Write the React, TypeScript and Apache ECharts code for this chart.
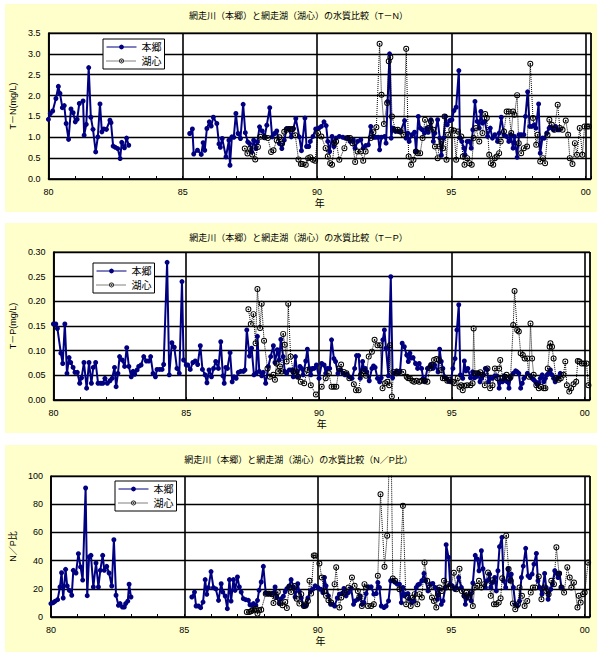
import React, { useEffect, useRef } from 'react';
import * as echarts from 'echarts';

const yearTickLabels = ['80', '85', '90', '95', '00'];
const titles = [
  '網走川（本郷）と網走湖（湖心）の水質比較（T－N）',
  '網走川（本郷）と網走湖（湖心）の水質比較（T－P）',
  '網走川（本郷）と網走湖（湖心）の水質比較（N／P比）',
];
const yNames = ['T－N(mg/L)', 'T－P(mg/L)', 'N／P比'];
const xName = '年';
const seriesNames = ['本郷', '湖心'];

const hongoTN = [
  [80.0, 1.43], [80.07, 1.57], [80.16, 1.63], [80.28, 1.93], [80.37, 2.22], [80.43, 2.05], [80.52, 1.71], [80.59, 1.76],
  [80.66, 1.33], [80.75, 0.95], [80.84, 1.68], [80.92, 1.59], [81.0, 1.37], [81.07, 1.43], [81.15, 1.81], [81.29, 1.87],
  [81.33, 1.05], [81.41, 1.31], [81.5, 2.67], [81.58, 1.48], [81.66, 1.19], [81.76, 0.65], [81.84, 1.01], [81.92, 1.8],
  [81.99, 1.13], [82.06, 1.2], [82.16, 1.19], [82.29, 1.41], [82.33, 1.35], [82.41, 0.79], [82.49, 0.76], [82.58, 0.73],
  [82.67, 0.49], [82.73, 0.88], [82.83, 0.75], [82.91, 0.98], [82.99, 0.81], [84.0, '-'],
  [85.26, 1.09], [85.36, 1.2], [85.41, 0.6], [85.55, 0.69], [85.69, 0.59], [85.76, 0.87], [85.82, 0.69], [85.9, 1.21],
  [85.99, 1.37], [86.06, 1.27], [86.14, 1.48], [86.27, 1.33], [86.35, 0.84], [86.4, 0.76], [86.47, 0.97], [86.61, 0.53],
  [86.72, 0.93], [86.76, 0.33], [86.83, 1.01], [86.9, 1.0], [86.98, 1.57], [87.06, 1.09], [87.15, 0.97], [87.25, 1.79],
  [87.33, 1.11], [87.42, 0.89], [87.49, 0.85], [87.57, 0.65], [87.64, 0.93], [87.72, 0.73], [87.78, 0.89], [87.86, 1.25],
  [87.96, 1.15], [88.05, 1.01], [88.13, 1.29], [88.24, 1.71], [88.33, 1.01], [88.42, 1.09], [88.5, 1.15], [88.6, 0.85],
  [88.69, 0.73], [88.78, 0.93], [88.87, 1.21], [88.94, 1.21], [89.04, 1.01], [89.12, 1.21], [89.21, 1.45], [89.34, 1.01],
  [89.42, 0.68], [89.55, 1.46], [89.61, 0.78], [89.69, 0.78], [89.75, 0.9], [89.85, 1.02], [89.95, 1.2],
  [90.07, 1.22], [90.16, 1.26], [90.26, 1.37], [90.34, 1.28], [90.4, 0.9], [90.47, 0.66], [90.56, 1.02], [90.63, 0.78],
  [90.71, 0.98], [90.83, 1.02], [90.96, 1.0], [91.05, 0.98], [91.14, 0.98], [91.23, 0.9], [91.35, 0.94], [91.42, 0.74],
  [91.51, 0.9], [91.63, 0.94], [91.72, 0.74], [91.81, 0.8], [91.91, 0.82], [92.0, 1.26], [92.1, 1.0], [92.18, 1.0],
  [92.28, 1.0], [92.33, 0.7], [92.4, 1.0], [92.52, 1.02], [92.57, 0.86], [92.63, 1.86], [92.7, 3.0], [92.76, 0.98],
  [92.82, 1.22], [92.92, 1.14], [93.01, 1.14], [93.1, 1.13], [93.26, 1.4], [93.31, 0.98], [93.38, 1.1], [93.43, 0.9],
  [93.53, 1.06], [93.63, 1.12], [93.69, 0.66], [93.77, 1.5], [93.84, 1.22], [93.92, 1.18], [94.0, 1.1], [94.08, 1.21],
  [94.14, 1.12], [94.24, 1.42], [94.33, 0.9], [94.39, 1.1], [94.49, 1.42], [94.57, 0.98], [94.63, 0.57], [94.71, 0.98],
  [94.78, 1.5], [94.85, 1.3], [94.94, 1.4], [95.02, 1.42], [95.1, 1.64], [95.18, 1.72], [95.28, 2.6], [95.32, 0.98],
  [95.39, 0.9], [95.47, 0.74], [95.51, 0.58], [95.59, 0.9], [95.67, 0.9], [95.74, 0.74], [95.8, 1.18], [95.88, 1.86],
  [95.96, 1.38], [96.04, 1.22], [96.1, 1.62], [96.16, 1.34], [96.25, 1.38], [96.35, 1.02], [96.45, 1.22], [96.53, 0.98],
  [96.62, 1.06], [96.72, 0.9], [96.78, 1.1], [96.86, 1.48], [96.96, 1.06], [97.05, 1.02], [97.14, 0.9], [97.21, 1.06],
  [97.3, 0.74], [97.35, 1.02], [97.45, 0.52], [97.52, 1.06], [97.6, 1.06], [97.7, 1.06], [97.76, 1.5], [97.84, 2.09],
  [97.92, 1.26], [98.0, 1.26], [98.09, 1.3], [98.15, 1.22], [98.25, 1.8], [98.31, 0.62], [98.39, 0.98], [98.46, 0.98],
  [98.55, 1.1], [98.64, 1.22], [98.7, 1.24], [98.8, 1.18], [98.88, 1.26], [98.96, 1.18], [99.02, 1.18],
];

const konshinTN = [
  [87.31, 0.73], [87.41, 0.61], [87.51, 0.73], [87.59, 0.59], [87.7, 0.47], [87.8, 0.77], [87.89, 1.01], [88.05, 1.0],
  [88.17, 0.98], [88.29, 0.65], [88.38, 0.69], [88.5, 0.93], [88.6, 1.0], [88.7, 0.85], [88.78, 1.13], [88.87, 1.18],
  [88.99, 1.2], [89.09, 1.2], [89.19, 1.05], [89.31, 0.47], [89.4, 0.36], [89.46, 0.36], [89.58, 0.34], [89.67, 0.5],
  [89.75, 0.52], [89.85, 0.46], [89.93, 0.44], [90.04, 1.1], [90.16, 1.02], [90.32, 0.74], [90.4, 0.54], [90.49, 0.38],
  [90.56, 0.34], [90.65, 0.86], [90.71, 0.9], [90.83, 0.46], [91.02, 0.74], [91.14, 0.98], [91.23, 0.98], [91.32, 0.86],
  [91.42, 0.41], [91.51, 0.66], [91.63, 0.66], [91.72, 0.44], [91.81, 0.66], [92.0, 0.98], [92.1, 1.12], [92.21, 1.24],
  [92.33, 3.24], [92.4, 2.02], [92.49, 1.32], [92.61, 1.82], [92.67, 2.82], [92.73, 2.92], [92.79, 1.5], [92.92, 1.18],
  [93.01, 1.18], [93.1, 1.14], [93.22, 1.06], [93.32, 3.12], [93.41, 0.54], [93.5, 0.34], [93.59, 0.46], [93.68, 0.66],
  [93.75, 0.62], [93.84, 0.62], [93.93, 0.98], [94.02, 1.42], [94.14, 1.22], [94.24, 1.38], [94.33, 1.18], [94.39, 0.78],
  [94.49, 0.5], [94.55, 0.78], [94.63, 0.9], [94.69, 0.74], [94.75, 1.5], [94.82, 0.46], [94.88, 1.06], [95.0, 1.18],
  [95.1, 1.16], [95.18, 0.46], [95.25, 1.14], [95.37, 1.02], [95.43, 0.54], [95.49, 0.34], [95.59, 0.5], [95.67, 0.38],
  [95.76, 0.34], [95.83, 0.98], [95.92, 1.22], [96.04, 0.9], [96.16, 1.1], [96.26, 1.56], [96.32, 1.46], [96.41, 0.58],
  [96.47, 0.38], [96.56, 0.34], [96.62, 0.5], [96.69, 0.54], [96.78, 0.62], [96.84, 0.9], [96.96, 1.14], [97.06, 1.62],
  [97.14, 1.62], [97.23, 1.1], [97.3, 1.62], [97.35, 1.54], [97.45, 2.01], [97.51, 0.86], [97.6, 0.62], [97.7, 0.74],
  [97.82, 0.78], [97.94, 2.76], [98.04, 1.46], [98.16, 0.82], [98.21, 1.06], [98.31, 0.42], [98.41, 0.5], [98.49, 0.38],
  [98.58, 1.06], [98.65, 1.42], [98.74, 1.3], [98.84, 1.18], [98.96, 1.78], [99.04, 1.22], [99.14, 1.18], [99.26, 1.4],
  [99.35, 1.06], [99.41, 0.5], [99.51, 0.36], [99.6, 0.86], [99.68, 0.58], [99.78, 1.22], [99.88, 0.58], [99.96, 1.26],
  [100.05, 1.26], [100.12, 1.26],
];

const hongoTP = [
  [80.0, 0.154], [80.09, 0.154], [80.15, 0.145], [80.28, 0.095], [80.35, 0.074], [80.43, 0.154], [80.51, 0.054], [80.59, 0.086],
  [80.65, 0.076], [80.74, 0.066], [80.81, 0.056], [80.9, 0.056], [80.99, 0.034], [81.06, 0.045], [81.15, 0.076], [81.25, 0.024],
  [81.34, 0.076], [81.43, 0.034], [81.5, 0.066], [81.59, 0.076], [81.68, 0.034], [81.78, 0.034], [81.86, 0.034], [81.94, 0.044],
  [82.03, 0.034], [82.13, 0.039], [82.21, 0.044], [82.3, 0.066], [82.36, 0.027], [82.43, 0.054], [82.49, 0.088], [82.59, 0.081],
  [82.68, 0.068], [82.76, 0.106], [82.84, 0.068], [82.93, 0.047], [83.0, 0.058], [83.06, 0.052], [83.15, 0.061], [83.21, 0.068],
  [83.3, 0.071], [83.4, 0.088], [83.5, 0.079], [83.59, 0.079], [83.66, 0.088], [83.75, 0.054], [83.84, 0.047], [83.9, 0.062],
  [84.0, 0.062], [84.09, 0.062], [84.15, 0.072], [84.28, 0.279], [84.36, 0.051], [84.46, 0.116], [84.55, 0.107], [84.65, 0.064],
  [84.74, 0.054], [84.84, 0.24], [84.9, 0.081], [85.0, 0.071], [85.06, 0.071], [85.15, 0.062], [85.25, 0.076], [85.34, 0.079],
  [85.43, 0.072], [85.53, 0.11], [85.61, 0.062], [85.71, 0.051], [85.78, 0.035], [85.86, 0.061], [85.95, 0.047], [86.03, 0.064],
  [86.11, 0.078], [86.21, 0.064], [86.3, 0.118], [86.38, 0.049], [86.43, 0.034], [86.49, 0.066], [86.55, 0.064], [86.65, 0.096],
  [86.73, 0.037], [86.8, 0.047], [86.88, 0.044], [86.96, 0.056], [87.05, 0.058], [87.15, 0.058], [87.21, 0.061], [87.28, 0.142],
  [87.38, 0.089], [87.46, 0.105], [87.55, 0.051], [87.63, 0.054], [87.68, 0.129], [87.75, 0.058], [87.84, 0.049], [87.9, 0.056],
  [87.99, 0.034], [88.09, 0.068], [88.18, 0.088], [88.28, 0.11], [88.34, 0.076], [88.43, 0.102], [88.5, 0.081], [88.56, 0.123],
  [88.65, 0.088], [88.71, 0.058], [88.78, 0.054], [88.88, 0.061], [88.96, 0.061], [89.03, 0.047], [89.11, 0.088], [89.19, 0.047],
  [89.28, 0.068], [89.34, 0.064], [89.4, 0.051], [89.5, 0.079], [89.56, 0.103], [89.63, 0.064], [89.69, 0.051], [89.75, 0.064],
  [89.81, 0.064], [89.9, 0.071], [90.0, 0.044], [90.1, 0.074], [90.19, 0.071], [90.25, 0.054], [90.31, 0.064], [90.4, 0.064],
  [90.47, 0.122], [90.56, 0.084], [90.62, 0.078], [90.71, 0.054], [90.81, 0.061], [90.9, 0.054], [90.97, 0.051], [91.06, 0.052],
  [91.14, 0.047], [91.24, 0.044], [91.34, 0.064], [91.41, 0.09], [91.49, 0.09], [91.55, 0.044], [91.64, 0.078], [91.7, 0.061],
  [91.74, 0.064], [91.8, 0.057], [91.89, 0.039], [91.99, 0.064], [92.05, 0.069], [92.11, 0.066], [92.2, 0.044], [92.28, 0.037],
  [92.34, 0.045], [92.4, 0.122], [92.46, 0.142], [92.52, 0.105], [92.61, 0.049], [92.7, 0.25], [92.77, 0.045], [92.84, 0.054],
  [92.92, 0.059], [92.99, 0.054], [93.05, 0.059], [93.13, 0.115], [93.21, 0.108], [93.3, 0.091], [93.36, 0.078], [93.42, 0.095],
  [93.48, 0.085], [93.54, 0.086], [93.63, 0.074], [93.71, 0.064], [93.77, 0.074], [93.86, 0.064], [93.92, 0.044], [93.98, 0.037],
  [94.08, 0.064], [94.14, 0.066], [94.2, 0.071], [94.29, 0.064], [94.35, 0.071], [94.48, 0.057], [94.54, 0.103], [94.6, 0.078],
  [94.66, 0.064], [94.73, 0.047], [94.79, 0.044], [94.88, 0.038], [94.95, 0.037], [95.04, 0.064], [95.12, 0.084], [95.19, 0.142],
  [95.26, 0.193], [95.32, 0.051], [95.41, 0.044], [95.47, 0.079], [95.53, 0.059], [95.6, 0.064], [95.7, 0.045], [95.78, 0.057],
  [95.85, 0.045], [95.91, 0.047], [95.99, 0.054], [96.06, 0.037], [96.12, 0.044], [96.19, 0.051], [96.26, 0.064], [96.32, 0.062],
  [96.38, 0.037], [96.44, 0.044], [96.53, 0.044], [96.62, 0.049], [96.69, 0.049], [96.78, 0.024], [96.84, 0.039], [96.9, 0.037],
  [96.97, 0.049], [97.03, 0.039], [97.09, 0.037], [97.15, 0.024], [97.21, 0.044], [97.31, 0.054], [97.4, 0.059], [97.46, 0.057],
  [97.52, 0.054], [97.59, 0.024], [97.65, 0.034], [97.71, 0.044], [97.84, 0.054], [97.96, 0.049], [98.02, 0.044], [98.08, 0.041],
  [98.15, 0.037], [98.21, 0.032], [98.27, 0.035], [98.33, 0.044], [98.4, 0.051], [98.46, 0.037], [98.52, 0.044], [98.58, 0.051],
  [98.64, 0.054], [98.71, 0.061], [98.77, 0.051], [98.83, 0.044], [98.89, 0.037], [98.96, 0.044], [99.02, 0.047], [99.08, 0.054],
];

const konshinTP = [
  [87.34, 0.184], [87.43, 0.154], [87.53, 0.174], [87.61, 0.115], [87.68, 0.225], [87.78, 0.146], [87.84, 0.195], [87.93, 0.12],
  [88.06, 0.064], [88.15, 0.047], [88.28, 0.051], [88.34, 0.041], [88.4, 0.074], [88.46, 0.058], [88.53, 0.068], [88.59, 0.058],
  [88.65, 0.134], [88.71, 0.112], [88.78, 0.078], [88.84, 0.195], [88.93, 0.088], [89.03, 0.058], [89.13, 0.058], [89.21, 0.047],
  [89.31, 0.037], [89.44, 0.034], [89.56, 0.061], [89.69, 0.03], [89.88, 0.011], [90.1, 0.027], [90.25, 0.044], [90.37, 0.054],
  [90.47, 0.027], [90.56, 0.027], [90.65, 0.027], [90.75, 0.064], [90.83, 0.072], [90.93, 0.057], [91.03, 0.054], [91.14, 0.044],
  [91.31, 0.032], [91.39, 0.02], [91.49, 0.02], [91.58, 0.051], [91.68, 0.059], [91.77, 0.049], [91.87, 0.088], [91.99, 0.098],
  [92.09, 0.122], [92.2, 0.111], [92.3, 0.111], [92.39, 0.024], [92.49, 0.034], [92.57, 0.037], [92.64, 0.03], [92.67, 0.111],
  [92.74, 0.007], [92.8, 0.057], [92.92, 0.054], [92.99, 0.057], [93.17, 0.057], [93.3, 0.047], [93.36, 0.044], [93.42, 0.044],
  [93.51, 0.039], [93.58, 0.037], [93.67, 0.039], [93.77, 0.037], [93.86, 0.039], [93.98, 0.039], [94.08, 0.037], [94.17, 0.064],
  [94.23, 0.071], [94.33, 0.081], [94.42, 0.083], [94.51, 0.081], [94.6, 0.061], [94.66, 0.044], [94.73, 0.044], [94.83, 0.039],
  [94.91, 0.041], [95.04, 0.037], [95.1, 0.034], [95.22, 0.044], [95.29, 0.027], [95.35, 0.03], [95.41, 0.02], [95.47, 0.029],
  [95.57, 0.03], [95.7, 0.03], [95.78, 0.034], [95.82, 0.145], [95.87, 0.054], [95.97, 0.054], [96.07, 0.056], [96.16, 0.051],
  [96.24, 0.03], [96.34, 0.064], [96.44, 0.024], [96.53, 0.03], [96.62, 0.064], [96.72, 0.044], [96.78, 0.064], [96.82, 0.081],
  [96.91, 0.044], [96.99, 0.047], [97.06, 0.051], [97.15, 0.044], [97.21, 0.047], [97.31, 0.152], [97.36, 0.221], [97.46, 0.142],
  [97.52, 0.139], [97.59, 0.095], [97.67, 0.091], [97.74, 0.084], [97.84, 0.084], [97.9, 0.047], [97.96, 0.155], [98.02, 0.084],
  [98.08, 0.051], [98.18, 0.03], [98.27, 0.024], [98.36, 0.027], [98.46, 0.024], [98.52, 0.024], [98.61, 0.064], [98.68, 0.108],
  [98.71, 0.115], [98.77, 0.108], [98.83, 0.084], [98.92, 0.044], [99.02, 0.041], [99.1, 0.044], [99.2, 0.051], [99.27, 0.078],
  [99.33, 0.03], [99.42, 0.017], [99.49, 0.024], [99.58, 0.032], [99.68, 0.037], [99.74, 0.079], [99.8, 0.078], [99.89, 0.074],
  [99.98, 0.074], [100.07, 0.074], [100.14, 0.03],
];

const hongoNP = [
  [80.0, 9.5], [80.09, 10.2], [80.15, 11.1], [80.25, 12.3], [80.34, 21.3], [80.4, 31.4], [80.46, 13.5], [80.55, 33.8],
  [80.61, 22.0], [80.69, 18.9], [80.78, 15.4], [80.84, 33.1], [80.94, 31.2], [81.03, 44.9], [81.11, 35.5], [81.19, 26.2],
  [81.3, 91.5], [81.36, 15.1], [81.43, 42.6], [81.5, 43.7], [81.59, 21.3], [81.69, 38.3], [81.78, 21.3], [81.85, 33.1],
  [81.94, 43.7], [82.0, 33.1], [82.09, 35.9], [82.18, 31.2], [82.28, 22.0], [82.36, 54.8], [82.44, 15.4], [82.53, 8.3],
  [82.59, 9.5], [82.68, 7.1], [82.75, 7.1], [82.8, 9.5], [82.88, 11.3], [82.93, 23.2], [83.0, 14.2], [84.0, '-'],
  [85.28, 14.2], [85.38, 17.7], [85.44, 7.8], [85.53, 7.8], [85.61, 6.6], [85.7, 10.6], [85.78, 26.5], [85.84, 16.1],
  [85.9, 20.8], [86.0, 32.2], [86.09, 20.8], [86.18, 19.9], [86.28, 11.8], [86.38, 23.6], [86.44, 17.7], [86.53, 14.9],
  [86.61, 5.9], [86.69, 26.5], [86.75, 11.3], [86.84, 26.5], [86.9, 18.9], [86.99, 28.4], [87.06, 21.3], [87.13, 17.7],
  [87.21, 13.0], [87.3, 12.3], [87.4, 11.8], [87.46, 8.7], [87.53, 8.3], [87.59, 9.5], [87.68, 8.3], [87.74, 11.8],
  [87.8, 18.9], [87.88, 24.8], [87.96, 35.9], [88.05, 17.0], [88.15, 16.5], [88.25, 16.5], [88.34, 17.0], [88.4, 21.3],
  [88.46, 14.2], [88.56, 9.5], [88.63, 13.0], [88.71, 14.7], [88.78, 18.0], [88.84, 20.1], [88.93, 22.0], [89.0, 26.5],
  [89.09, 21.3], [89.15, 14.2], [89.25, 23.6], [89.31, 18.0], [89.38, 13.5], [89.48, 7.8], [89.56, 7.8], [89.63, 13.5],
  [89.73, 18.5], [89.81, 19.7], [89.9, 22.1], [90.0, 20.9], [90.1, 19.7], [90.19, 17.3], [90.25, 28.0], [90.31, 22.1],
  [90.4, 15.0], [90.48, 9.0], [90.56, 9.0], [90.63, 7.8], [90.73, 13.5], [90.81, 16.2], [90.9, 16.6], [90.98, 20.2],
  [91.06, 15.0], [91.15, 17.3], [91.25, 20.4], [91.34, 9.0], [91.4, 11.4], [91.5, 12.6], [91.59, 15.0], [91.66, 9.0],
  [91.73, 10.2], [91.81, 16.6], [91.9, 21.4], [92.0, 21.4], [92.1, 16.2], [92.19, 16.6], [92.25, 24.5], [92.31, 20.9],
  [92.38, 7.8], [92.48, 6.7], [92.56, 7.8], [92.65, 11.4], [92.73, 25.7], [92.81, 25.7], [92.9, 24.5], [92.98, 23.3],
  [93.06, 23.3], [93.13, 10.2], [93.19, 20.9], [93.25, 15.0], [93.31, 16.2], [93.38, 16.6], [93.44, 12.6], [93.53, 10.2],
  [93.6, 11.4], [93.69, 20.9], [93.75, 22.8], [93.81, 23.3], [93.9, 25.7], [93.98, 30.9], [94.04, 25.7], [94.13, 18.5],
  [94.23, 23.3], [94.31, 23.8], [94.4, 20.9], [94.48, 12.6], [94.54, 19.7], [94.63, 9.0], [94.69, 11.4], [94.78, 20.9],
  [94.81, 51.3], [94.9, 42.3], [94.96, 23.3], [95.04, 22.1], [95.13, 19.7], [95.19, 20.9], [95.28, 28.0], [95.38, 20.9],
  [95.48, 15.0], [95.53, 9.0], [95.59, 13.5], [95.69, 16.6], [95.75, 11.4], [95.81, 24.2], [95.9, 43.7], [95.98, 41.1],
  [96.04, 32.8], [96.13, 47.0], [96.19, 34.2], [96.28, 20.9], [96.35, 25.7], [96.44, 30.4], [96.48, 20.9], [96.56, 24.5],
  [96.63, 28.0], [96.69, 18.5], [96.75, 32.8], [96.81, 49.9], [96.9, 56.5], [96.96, 25.7], [97.04, 20.9], [97.13, 34.2],
  [97.19, 25.7], [97.25, 30.4], [97.33, 20.9], [97.4, 9.0], [97.48, 7.8], [97.56, 11.4], [97.63, 28.0], [97.7, 36.1],
  [97.79, 48.7], [97.88, 29.2], [97.94, 28.0], [98.03, 30.4], [98.1, 37.5], [98.19, 45.1], [98.25, 25.7], [98.31, 20.9],
  [98.4, 16.2], [98.5, 30.9], [98.56, 20.9], [98.63, 12.6], [98.73, 19.7], [98.79, 23.3], [98.88, 32.8], [98.94, 30.9],
  [99.0, 28.0], [99.06, 30.9], [99.13, 20.9],
];

const konshinNP = [
  [87.34, 3.5], [87.43, 3.5], [87.5, 4.0], [87.55, 4.7], [87.63, 4.7], [87.68, 5.9], [87.74, 2.4], [87.8, 4.7],
  [87.88, 5.2], [88.05, 16.5], [88.15, 16.5], [88.28, 16.1], [88.34, 9.9], [88.43, 14.2], [88.5, 17.7], [88.59, 9.9],
  [88.68, 8.3], [88.78, 10.6], [88.84, 6.4], [88.93, 21.3], [89.0, 17.7], [89.13, 22.0], [89.21, 13.0], [89.31, 9.5],
  [89.38, 16.2], [89.48, 7.8], [89.56, 9.0], [89.63, 11.4], [89.69, 25.7], [89.75, 16.6], [89.85, 43.7], [89.9, 43.7],
  [90.06, 38.0], [90.15, 28.0], [90.25, 18.5], [90.31, 15.0], [90.4, 11.9], [90.5, 10.2], [90.63, 23.3], [90.69, 35.2],
  [90.81, 6.7], [90.88, 13.8], [91.0, 17.3], [91.15, 20.9], [91.28, 28.0], [91.38, 22.1], [91.5, 18.5], [91.56, 14.3],
  [91.65, 7.8], [91.75, 23.3], [91.81, 20.9], [91.88, 7.8], [92.0, 7.8], [92.1, 9.0], [92.25, 29.2], [92.35, 87.0],
  [92.5, 35.6], [92.6, 57.7], [92.73, 150.0], [92.81, 27.3], [92.9, 25.7], [93.06, 19.7], [93.19, 78.9], [93.31, 9.0],
  [93.38, 13.8], [93.48, 7.8], [93.56, 13.8], [93.63, 16.2], [93.73, 9.0], [93.81, 16.2], [93.9, 13.8], [94.0, 38.7],
  [94.1, 25.7], [94.19, 20.9], [94.28, 13.8], [94.35, 11.4], [94.44, 6.7], [94.5, 16.2], [94.56, 20.9], [94.65, 18.5],
  [94.73, 25.7], [94.81, 20.9], [94.88, 23.3], [94.98, 20.9], [95.1, 31.4], [95.19, 19.7], [95.31, 34.2], [95.4, 18.5],
  [95.5, 15.0], [95.56, 17.3], [95.65, 13.8], [95.75, 17.3], [95.81, 7.8], [95.88, 20.9], [95.98, 22.1], [96.04, 25.7],
  [96.13, 20.9], [96.23, 23.3], [96.38, 31.6], [96.48, 15.0], [96.54, 26.1], [96.6, 9.0], [96.69, 9.0], [96.78, 10.2],
  [96.85, 13.3], [96.91, 27.5], [97.06, 57.7], [97.15, 34.0], [97.23, 25.7], [97.31, 9.5], [97.4, 5.5], [97.5, 9.0],
  [97.56, 20.9], [97.65, 15.0], [97.75, 7.8], [97.85, 11.4], [97.98, 17.3], [98.06, 20.9], [98.15, 20.9], [98.28, 28.7],
  [98.38, 12.6], [98.48, 20.9], [98.56, 18.5], [98.65, 16.2], [98.75, 25.7], [98.85, 23.3], [98.94, 49.4], [99.04, 30.9],
  [99.13, 20.9], [99.23, 17.3], [99.35, 35.2], [99.44, 28.0], [99.5, 20.9], [99.6, 24.5], [99.73, 6.7], [99.78, 15.0],
  [99.85, 10.2], [99.94, 16.2], [100.0, 17.3], [100.13, 38.7],
];

const FONT = '"Liberation Sans", Arial, "Noto Sans CJK JP", sans-serif';
const RING_DOT =
  'path://M0,5a5,5 0 1,0 10,0a5,5 0 1,0 -10,0Z M1.6,5a3.4,3.4 0 1,1 6.8,0a3.4,3.4 0 1,1 -6.8,0Z M3.6,5a1.4,1.4 0 1,0 2.8,0a1.4,1.4 0 1,0 -2.8,0Z';

export default function App() {
  const ref = useRef<HTMLDivElement>(null);
  useEffect(() => {
    const chart = echarts.init(ref.current as HTMLDivElement, null, { renderer: 'svg' });
    const grids = [
      { left: 43, top: 33, width: 548, height: 146 },
      { left: 49, top: 252, width: 541, height: 148 },
      { left: 49, top: 476, width: 541, height: 141 },
    ];
    const ySpecs = [
      { max: 3.5, interval: 0.5, dec: 1, gap: 23 },
      { max: 0.3, interval: 0.05, dec: 2, gap: 29 },
      { max: 100, interval: 20, dec: 0, gap: 26 },
    ];
    const titleTops = [11, 233, 455];
    const legendPos = [
      { left: 103, top: 39 },
      { left: 93, top: 263 },
      { left: 115, top: 481 },
    ];
    const hongo = [hongoTN, hongoTP, hongoNP];
    const konshin = [konshinTN, konshinTP, konshinNP];

    const series: any[] = [];
    for (let i = 0; i < 3; i++) {
      series.push({
        name: seriesNames[0], type: 'line', xAxisIndex: i, yAxisIndex: i, data: hongo[i],
        symbol: 'circle', symbolSize: 5, clip: true,
        lineStyle: { color: '#000080', width: 2 },
        itemStyle: { color: '#000080' },
      });
      series.push({
        name: seriesNames[1], type: 'line', xAxisIndex: i, yAxisIndex: i, data: konshin[i],
        symbol: RING_DOT, symbolSize: 6, clip: true,
        lineStyle: { color: '#000', width: 1, type: 'dotted' },
        itemStyle: { color: '#000' },
      });
    }

    const option: any = {
      animation: false,
      textStyle: { fontFamily: FONT },
      title: titles.map((t, i) => ({
        text: t, left: 'center', top: titleTops[i], padding: 0,
        textStyle: { fontSize: 9, fontWeight: 'normal', color: '#000', fontFamily: FONT },
      })),
      legend: legendPos.map((p) => ({
        data: seriesNames, orient: 'vertical', left: p.left, top: p.top,
        backgroundColor: '#fff', borderColor: '#000', borderWidth: 1, borderRadius: 0,
        padding: [2, 3], itemGap: 2, itemWidth: 30, itemHeight: 6,
        lineStyle: { width: 1 },
        textStyle: { fontSize: 10, color: '#000', fontFamily: FONT, lineHeight: 12 },
      })),
      grid: grids.map((g) => ({ ...g, show: true, backgroundColor: '#fff', borderColor: '#000', borderWidth: 1 })),
      xAxis: grids.map((_, i) => ({
        type: 'value', gridIndex: i, min: 80, max: 100.2, interval: 5,
        name: xName, nameLocation: 'middle', nameGap: 19,
        nameTextStyle: { fontSize: 10, color: '#000', fontFamily: FONT },
        axisLine: { onZero: false, lineStyle: { color: '#000', width: 1.5 } },
        axisTick: { show: true, inside: true, length: 3, lineStyle: { color: '#000' } },
        minorTick: { show: true, splitNumber: 5, length: 3, lineStyle: { color: '#000' } },
        axisLabel: {
          fontSize: 9, color: '#000', margin: 8, fontFamily: FONT,
          formatter: (v: number) => {
            const idx = Math.round((v - 80) / 5);
            return Math.abs(v - (80 + idx * 5)) < 1e-6 ? yearTickLabels[idx] : '';
          },
        },
        splitLine: { show: true, lineStyle: { color: '#000', width: 1.6 } },
      })),
      yAxis: ySpecs.map((s, i) => ({
        type: 'value', gridIndex: i, min: 0, max: s.max, interval: s.interval,
        name: yNames[i], nameLocation: 'middle', nameGap: s.gap, nameRotate: 90,
        nameTextStyle: { fontSize: 9, color: '#000', fontFamily: FONT },
        axisLine: { show: true, lineStyle: { color: '#000', width: 1.5 } },
        axisTick: { show: false },
        axisLabel: {
          fontSize: 9, color: '#000', margin: 8, fontFamily: FONT,
          formatter: (v: number) => v.toFixed(s.dec),
        },
        splitLine: { show: true, lineStyle: { color: '#000', width: 1.4 } },
      })),
      series,
    };
    chart.setOption(option);
    return () => chart.dispose();
  }, []);

  const panels = [
    { top: 4, height: 208 },
    { top: 223, height: 210 },
    { top: 445, height: 207 },
  ];
  return (
    <div style={{ position: 'absolute', left: 0, top: 0, width: 597, height: 652, background: '#fff' }}>
      {panels.map((p, i) => (
        <div key={i} style={{ position: 'absolute', left: 5, top: p.top, width: 592, height: p.height, background: '#FFFFCC' }} />
      ))}
      <div ref={ref} style={{ position: 'absolute', left: 0, top: 0, width: 597, height: 652 }} />
    </div>
  );
}
